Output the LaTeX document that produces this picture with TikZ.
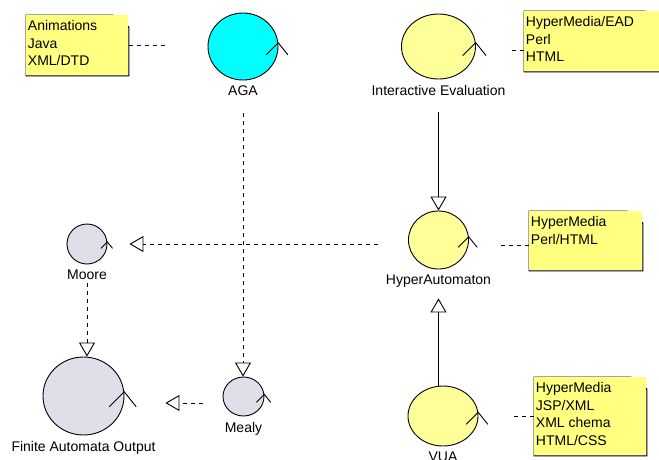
\documentclass[tikz,border=0pt]{standalone}
\usepackage{fontspec}
\setmainfont{Liberation Sans}
\usetikzlibrary{arrows.meta}
\usetikzlibrary{shapes.geometric}

\definecolor{noteYellow}{RGB}{255,255,128}
\definecolor{ctrlYellow}{RGB}{255,255,153}
\definecolor{ctrlCyan}{RGB}{0,255,255}
\definecolor{ctrlGray}{RGB}{224,222,232}

\begin{document}
\begin{tikzpicture}[
		x=1pt, y=-1pt,
		line width=0.9pt,
		font=\fontsize{14}{17.5}\selectfont,
		ctrl/.style={ellipse, draw, inner sep=0pt},
		label distance=5pt,
		every label/.style={inner sep=0pt},
		noteline/.style={dash pattern=on 4pt off 4pt},
		dep/.style={noteline, -{Triangle[open, width=16pt, length=14pt]}},
		gen/.style={-{Triangle[open, width=16pt, length=14pt]}},
		notebox/.style 2 args={rectangle, fill=noteYellow, inner sep=0pt, anchor=north west,
			execute at begin node={\begin{minipage}[c][#2][t]{#1}\raggedright\leftskip=1.5pt\rule{0pt}{15.5pt}},
			execute at end node={\end{minipage}},
			append after command={\pgfextra{\let\thisnote\tikzlastnode
				\fill[white] ([xshift=-16pt]\thisnote.north east) -- (\thisnote.north east) -- ([yshift=-12pt]\thisnote.north east) -- cycle;
				\draw ([xshift=-16pt]\thisnote.north east) |- ([yshift=-12pt]\thisnote.north east);
				\draw (\thisnote.north west) -- ([xshift=-16pt]\thisnote.north east) -- ([yshift=-12pt]\thisnote.north east) -- (\thisnote.south east) -- (\thisnote.south west) -- cycle;
			}}}
	]
	\useasboundingbox[fill=white] (0,0) rectangle (659,459);

	% controls
	\node[ctrl, fill=ctrlCyan, minimum width=70pt, minimum height=67pt, label=below:AGA] (aga) at (243,46.5) {};
	\node[ctrl, fill=ctrlYellow, minimum width=74pt, minimum height=65pt, label=below:Interactive Evaluation] (interEval) at (438.5,46.5) {};
	\node[ctrl, fill=ctrlYellow, minimum width=60pt, minimum height=58pt, label=below:HyperAutomaton] (hyperAut) at (438.5,240) {};
	\node[ctrl, fill=ctrlYellow, minimum width=70pt, minimum height=60pt, label=below:VUA] (vua) at (443,416) {};
	\node[ctrl, fill=ctrlGray, minimum width=40pt, minimum height=40pt, label=below:Moore] (moore) at (87,244) {};
	\node[ctrl, fill=ctrlGray, minimum width=41pt, minimum height=39pt, label=below:Mealy] (mealy) at (243.5,396.5) {};
	\node[ctrl, fill=ctrlGray, minimum width=81pt, minimum height=78pt, label=below:Finite Automata Output] (finAutOut) at (83.5,396) {};

	\foreach \n/\l in {aga/12, interEval/13, hyperAut/10.5, vua/12, moore/6.5, mealy/8, finAutOut/15}
		\draw ([shift={(-\l,\l)}]\n.6) -- (\n.6) -- ++(0.8*\l,\l);

	% notes
	\node[notebox={102pt}{60pt}] (anim) at (26,15) {Animations\\Java\\XML/DTD};
	\node[notebox={136pt}{60pt}] (hmEad) at (524,11) {HyperMedia/EAD\\Perl\\HTML};
	\node[notebox={113pt}{59pt}] (hmPerl) at (529,211) {HyperMedia\\Perl/HTML};
	\node[notebox={112pt}{78pt}] (hmJsp) at (534,377) {HyperMedia\\JSP/XML\\XML chema\\HTML/CSS};

	\draw[noteline, shorten >=41pt] (anim.east) -- (anim.east -| aga.west);
	\draw[noteline, shorten >=36.5pt] ([yshift=-9pt]hmEad.west) -- ([yshift=-9pt]hmEad.west -| interEval.east);
	\draw[noteline, shorten >=29.5pt] ([yshift=-4.5pt]hmPerl.west) -- ([yshift=-4.5pt]hmPerl.west -| hyperAut.east);
	\draw[noteline, shorten >=35pt] (hmJsp.west) -- (hmJsp.west -| vua.east);

	% dependencies
	\draw[dep, shorten <=33pt] (aga.south) -- (aga.south |- mealy.north);
	\draw[gen, shorten <=33pt] (interEval.south) -- (hyperAut.north);
	\draw[gen, shorten >=29pt] (vua.north -| hyperAut.south) -- (hyperAut.south);
	\draw[dep, shorten <=30.5pt, shorten >=22pt] (hyperAut.west |- moore.east) -- (moore.east);
	\draw[dep, shorten <=19pt] (moore.south) -- (moore.south |- finAutOut.north);
	\draw[dep, shorten <=20pt, shorten >=41pt] ([yshift=-6.5pt]mealy.west) -- ([yshift=-6.5pt]mealy.west -| finAutOut.east);
\end{tikzpicture}
\end{document}
